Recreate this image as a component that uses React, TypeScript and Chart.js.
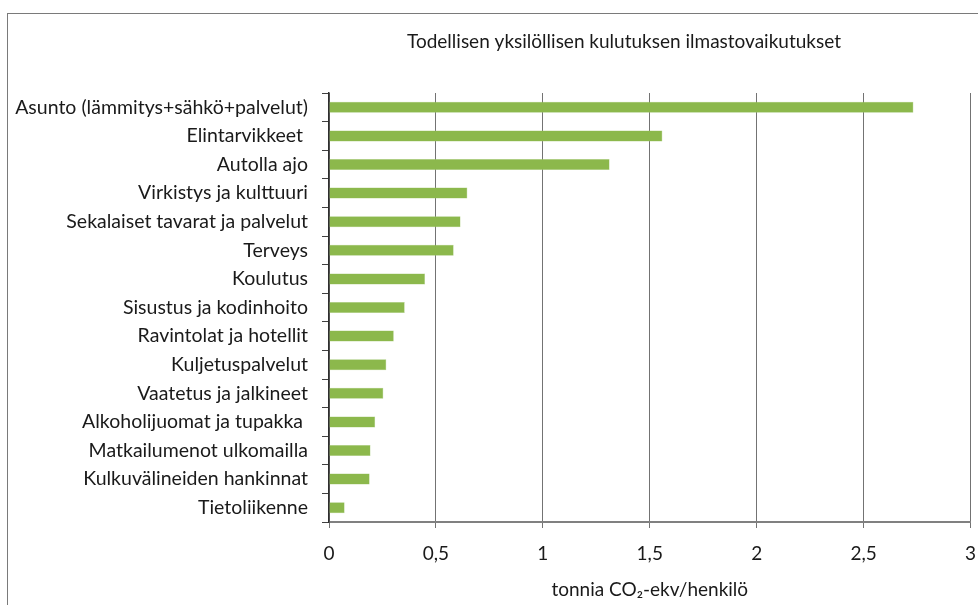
import React, { useEffect, useRef } from "react";
import { Chart, registerables } from "chart.js";

Chart.register(...registerables);

const categories = [
  "Asunto (lämmitys+sähkö+palvelut)",
  "Elintarvikkeet ",
  "Autolla ajo",
  "Virkistys ja kulttuuri",
  "Sekalaiset tavarat ja palvelut",
  "Terveys",
  "Koulutus",
  "Sisustus ja kodinhoito",
  "Ravintolat ja hotellit",
  "Kuljetuspalvelut",
  "Vaatetus ja jalkineet",
  "Alkoholijuomat ja tupakka ",
  "Matkailumenot ulkomailla",
  "Kulkuvälineiden hankinnat",
  "Tietoliikenne",
];

const values = [2.733, 1.559, 1.312, 0.647, 0.615, 0.583, 0.449, 0.354, 0.303, 0.268, 0.254, 0.216, 0.194, 0.19, 0.073];

const titleText = "Todellisen yksilöllisen kulutuksen ilmastovaikutukset";
const xAxisTitle = "tonnia CO₂-ekv/henkilö";

const FONT = "Lato, 'Open Sans', sans-serif";

export default function App() {
  const ref = useRef<HTMLCanvasElement | null>(null);

  useEffect(() => {
    if (!ref.current) return;
    const framePlugin = {
      id: "frameAndTitle",
      beforeDraw(chart: any) {
        const ctx = chart.ctx;
        ctx.save();
        ctx.fillStyle = "#ffffff";
        ctx.fillRect(0, 0, chart.width, chart.height);
        ctx.strokeStyle = "#7a7a7a";
        ctx.lineWidth = 1;
        ctx.strokeRect(7.5, 13.5, 1100, 800);
        ctx.restore();
      },
      afterDraw(chart: any) {
        const ctx = chart.ctx;
        ctx.save();
        ctx.fillStyle = "#1a1a1a";
        ctx.font = `19px ${FONT}`;
        ctx.textAlign = "center";
        ctx.textBaseline = "middle";
        ctx.fillText(titleText, 624, 42);
        ctx.restore();
      },
    };

    const chart = new Chart(ref.current, {
      type: "bar",
      data: {
        labels: categories,
        datasets: [
          {
            data: values,
            backgroundColor: "#8cb84c",
            borderColor: "#a6c97a",
            borderWidth: 0.5,
            barPercentage: 0.385,
            categoryPercentage: 1,
          },
        ],
      },
      options: {
        indexAxis: "y",
        animation: false,
        responsive: true,
        maintainAspectRatio: false,
        layout: { padding: { top: 93, right: 0, left: 0, bottom: 0 } },
        plugins: {
          legend: { display: false },
          tooltip: { enabled: false },
          title: { display: false },
        },
        scales: {
          x: {
            min: 0,
            max: 3,
            ticks: {
              stepSize: 0.5,
              color: "#1a1a1a",
              font: { family: FONT, size: 19 },
              padding: 14,
              callback: (v: any) => String(v).replace(".", ","),
            },
            grid: {
              color: "#737373",
              lineWidth: 1,
              tickLength: 6,
              drawTicks: true,
            },
            border: { color: "#808080", width: 2 },
            title: {
              display: true,
              text: xAxisTitle,
              color: "#1a1a1a",
              font: { family: FONT, size: 19 },
              padding: { top: 0, bottom: 4 },
            },
            afterFit: (scale: any) => {
              scale.height = 83;
            },
          },
          y: {
            ticks: {
              color: "#1a1a1a",
              font: { family: FONT, size: 19.5 },
              padding: 14,
            },
            grid: {
              drawOnChartArea: false,
              drawTicks: true,
              tickLength: 7,
              offset: true,
              color: "#404040",
            },
            border: { color: "#2e2e2e", width: 1.5 },
            afterFit: (scale: any) => {
              scale.width = 329;
            },
          },
        },
      },
      plugins: [framePlugin],
    });
    return () => chart.destroy();
  }, []);

  return (
    <div style={{ position: "fixed", left: 0, top: 0, width: 978, height: 605, overflow: "hidden", background: "#fff" }}>
      <div style={{ position: "absolute", left: 0, top: 0, width: 990, height: 605 }}>
        <canvas ref={ref} />
      </div>
    </div>
  );
}
